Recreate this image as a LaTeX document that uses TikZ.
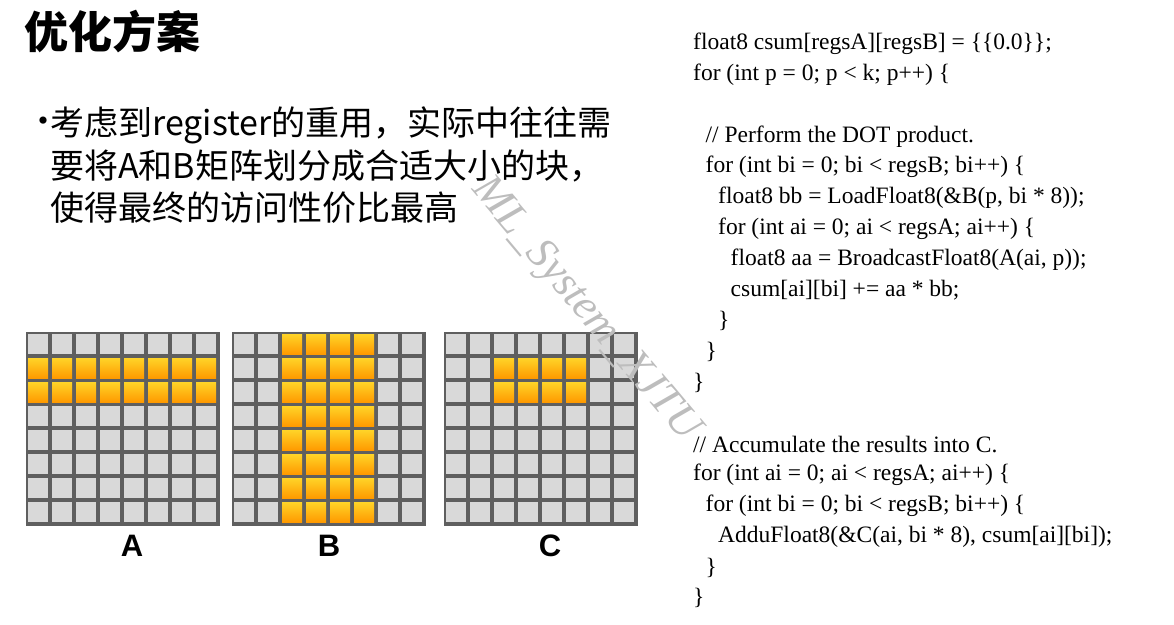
\documentclass[tikz,border=0pt]{standalone}
\usepackage{fontspec}
\setmainfont{Liberation Serif}
\setsansfont{Liberation Sans}
\newfontfamily\cjk{Noto Sans CJK SC}
\usetikzlibrary{positioning}
\definecolor{gridbg}{HTML}{5F5F5F}
\definecolor{cellgray}{HTML}{D9D9D9}
\definecolor{hiTop}{HTML}{FFD428}
\definecolor{hiBot}{HTML}{FF9A00}
\definecolor{wmark}{HTML}{BDBDBD}
\tikzset{
  codeline/.style={anchor=west, inner sep=0pt, font=\fontsize{23.5}{26}\selectfont},
  bodytext/.style={anchor=west, inner sep=0pt, font=\cjk\fontsize{34}{40}\selectfont},
  gridlabel/.style={inner sep=0pt, font=\sffamily\bfseries\fontsize{31}{32}\selectfont},
}
\newcommand{\cellsq}[3]{% x0, col, row
  \fill[cellgray] (#1+#2*24+2,332+#3*24+2) rectangle ++(20,20);}
\newcommand{\hisq}[3]{%
  \shade[top color=hiTop, bottom color=hiBot] (#1+#2*24+2,332+#3*24+2) rectangle ++(20,20);}
\begin{document}
\begin{tikzpicture}[x=1pt,y=-1pt]
  \useasboundingbox (0,0) rectangle (1174,624);

  % title and bullet
  \node[bodytext, font=\cjk\bfseries\fontsize{44}{48}\selectfont] (title) at (24,32) {优化方案};
  \node[bodytext] (dot) at (26,125) {·};
  \node[bodytext] (l1) at (50,125) {考虑到register的重用，实际中往往需};
  \node[bodytext] (l2) at (50,166) {要将A和B矩阵划分成合适大小的块，};
  \node[bodytext] (l3) at (50,208) {使得最终的访问性价比最高};

  % grids
  \foreach \gx in {26,232,444} {
    \fill[gridbg] (\gx,332) rectangle ++(194,194);
    \foreach \cx in {0,...,7} {
      \foreach \ry in {0,...,7} {\cellsq{\gx}{\cx}{\ry}}}
  }
  \foreach \cx in {0,...,7} {\foreach \ry in {1,2} {\hisq{26}{\cx}{\ry}}}
  \foreach \cx in {2,...,5} {\foreach \ry in {0,...,7} {\hisq{232}{\cx}{\ry}}}
  \foreach \cx in {2,...,5} {\foreach \ry in {1,2} {\hisq{444}{\cx}{\ry}}}
  \node[gridlabel] (labA) at (132,546) {A};
  \node[gridlabel] (labB) at (329,546) {B};
  \node[gridlabel] (labC) at (550,546) {C};

  % code
  \foreach \ind/\i/\txt in {
    0/0/{float8 csum[regsA][regsB] = \{\{0.0\}\};},
    0/1/{for (int p = 0; p < k; p++) \{},
    1/3/{// Perform the DOT product.},
    1/4/{for (int bi = 0; bi < regsB; bi++) \{},
    2/5/{float8 bb = LoadFloat8(\&B(p, bi * 8));},
    2/6/{for (int ai = 0; ai < regsA; ai++) \{},
    3/7/{float8 aa = BroadcastFloat8(A(ai, p));},
    3/8/{csum[ai][bi] += aa * bb;},
    2/9/{\}},
    1/10/{\}},
    0/11/{\}},
    0/13/{// Accumulate the results into C.},
    0/14/{for (int ai = 0; ai < regsA; ai++) \{},
    1/15/{for (int bi = 0; bi < regsB; bi++) \{},
    2/16/{AdduFloat8(\&C(ai, bi * 8), csum[ai][bi]);},
    1/17/{\}},
    0/18/{\}}}
    {\node[codeline] (code\i) at (693+\ind*12.5, 44+\i*30.8) {\txt};}

  % watermark
  \node[text=wmark, rotate=-50, font=\itshape\fontsize{44}{44}\selectfont] (wm) at (585,310) {ML\_System\_XJTU};
\end{tikzpicture}
\end{document}
